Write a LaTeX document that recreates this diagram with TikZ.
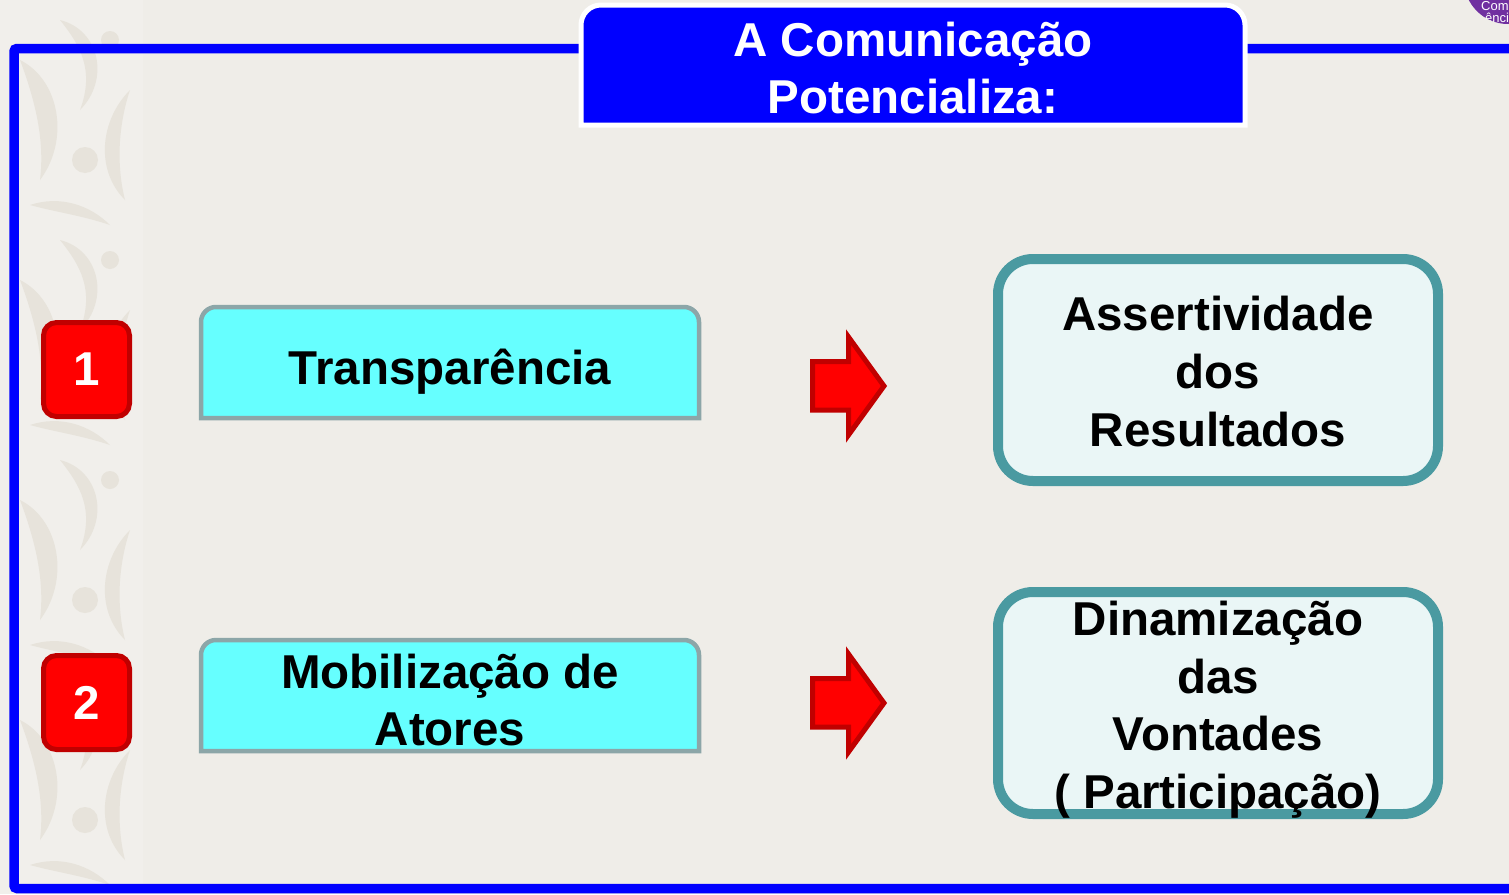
\documentclass[tikz,border=0pt]{standalone}
\usepackage{fontspec}
\setmainfont{Liberation Sans}
\definecolor{bg}{HTML}{EFEDE8}
\definecolor{strip}{HTML}{F1EFEB}
\definecolor{damask}{HTML}{E7E3DB}
\definecolor{frameblue}{HTML}{0000FF}
\definecolor{numborder}{HTML}{C00000}
\definecolor{cyanfill}{HTML}{66FFFF}
\definecolor{cyanborder}{HTML}{8CA6A8}
\definecolor{tealborder}{HTML}{4A9AA1}
\definecolor{tealfill}{HTML}{EAF6F6}
\definecolor{logopurple}{HTML}{7030A0}
\newcommand{\toproundbox}[5]{%
  (#1,#4) -- (#1,#2+#5) arc[start angle=180,end angle=270,radius=#5]
  -- (#3-#5,#2) arc[start angle=270,end angle=360,radius=#5] -- (#3,#4) -- cycle}
\begin{document}
\begin{tikzpicture}[x=1pt,y=-1pt,
  txt/.style={font=\fontsize{47.5}{57.5}\selectfont\bfseries, anchor=base, inner sep=0pt},
  numbox/.style={draw=numborder, fill=red, line width=5pt, rounded corners=13pt,
    minimum width=86pt, minimum height=94pt, inner sep=0pt, text=white,
    font=\fontsize{47.5}{57.5}\selectfont\bfseries},
  cyanbox/.style={draw=cyanborder, fill=cyanfill, line width=4.5pt},
  resbox/.style={draw=tealborder, fill=tealfill, line width=10pt, rounded corners=35pt,
    minimum width=440pt, minimum height=222pt, inner sep=0pt},
  redarrow/.style={draw=numborder, fill=red, line width=5pt, line join=miter},
  titlebox/.style={draw=white, fill=frameblue, line width=5pt},
  blob/.style={fill=damask}]
\useasboundingbox (0,0) rectangle (1509,894);
\fill[bg] (0,0) rectangle (1509,894);
% decorative left strip
\begin{scope}
  \clip (0,0) rectangle (143,894);
  \fill[strip] (0,0) rectangle (143,894);
  \foreach \yy in {0,220,440,660,880}{
    \fill[blob] (60,\yy+20) .. controls (100,\yy+30) and (110,\yy+80) .. (80,\yy+110)
      .. controls (95,\yy+70) and (80,\yy+45) .. (60,\yy+20);
    \fill[blob] (20,\yy+60) .. controls (60,\yy+80) and (70,\yy+140) .. (40,\yy+180)
      .. controls (45,\yy+140) and (35,\yy+100) .. (20,\yy+60);
    \fill[blob] (130,\yy+90) .. controls (100,\yy+120) and (95,\yy+170) .. (125,\yy+200)
      .. controls (115,\yy+160) and (120,\yy+120) .. (130,\yy+90);
    \fill[blob] (85,\yy+160) circle[radius=13];
    \fill[blob] (110,\yy+40) circle[radius=9];
    \fill[blob] (30,\yy+205) .. controls (60,\yy+195) and (90,\yy+205) .. (110,\yy+225)
      .. controls (80,\yy+215) and (55,\yy+212) .. (30,\yy+205);
  }
\end{scope}
% purple logo (cut off at top right)
\begin{scope}
  \clip (1400,0) rectangle (1509,60);
  \fill[logopurple] (1508,-20) circle[radius=44];
  \begin{scope}
    \clip (1508,-20) circle[radius=44];
    \node[anchor=base west, inner sep=0pt, text=white, font=\fontsize{13}{15}\selectfont] (logo1) at (1481,10) {Com};
    \node[anchor=base west, inner sep=0pt, text=white, font=\fontsize{13}{15}\selectfont] (logo2) at (1485,23) {ênci};
  \end{scope}
\end{scope}
% blue frame
\draw[frameblue, line width=9.5pt, rounded corners=3pt] (1530,48.5) -- (14,48.5) -- (14,888.5) -- (1530,888.5);
% title
\draw[titlebox] \toproundbox{581}{5}{1245}{125}{20};
\node[txt, text=white] (title1) at (913,56) {A Comunicação};
\node[txt, text=white] (title2) at (913,113) {Potencializa:};
% number boxes
\node[numbox] (n1) at (86.5,369.5) {1};
\node[numbox] (n2) at (86.5,702.5) {2};
% cyan boxes
\draw[cyanbox] \toproundbox{201}{307}{699}{418}{15};
\coordinate (c1) at (450,362.5);
\draw[cyanbox] \toproundbox{201}{640}{699}{751}{15};
\coordinate (c2) at (450,695.5);
% red arrows
\draw[redarrow] (812.5,361.5) -- (848.5,361.5) -- (848.5,337) -- (884,386) -- (848.5,435) -- (848.5,410) -- (812.5,410) -- cycle;
\draw[redarrow] (812.5,678.5) -- (848.5,678.5) -- (848.5,654) -- (884,703) -- (848.5,752) -- (848.5,727) -- (812.5,727) -- cycle;
% result boxes
\node[resbox] (r1) at (1218,370) {};
\node[resbox] (r2) at (1218,703) {};
% texts
\node[txt] (t1) at (450,384) {Transparência};
\node[txt] (t2a) at (450,688) {Mobilização de};
\node[txt] (t2b) at (450,745) {Atores};
\node[txt] (r1a) at (1218,330) {Assertividade};
\node[txt] (r1b) at (1218,388) {dos};
\node[txt] (r1c) at (1218,446) {Resultados};
\node[txt] (r2a) at (1218,635) {Dinamização};
\node[txt] (r2b) at (1218,693) {das};
\node[txt] (r2c) at (1218,750) {Vontades};
\node[txt] (r2d) at (1218,808) {( Participação)};
\end{tikzpicture}
\end{document}
